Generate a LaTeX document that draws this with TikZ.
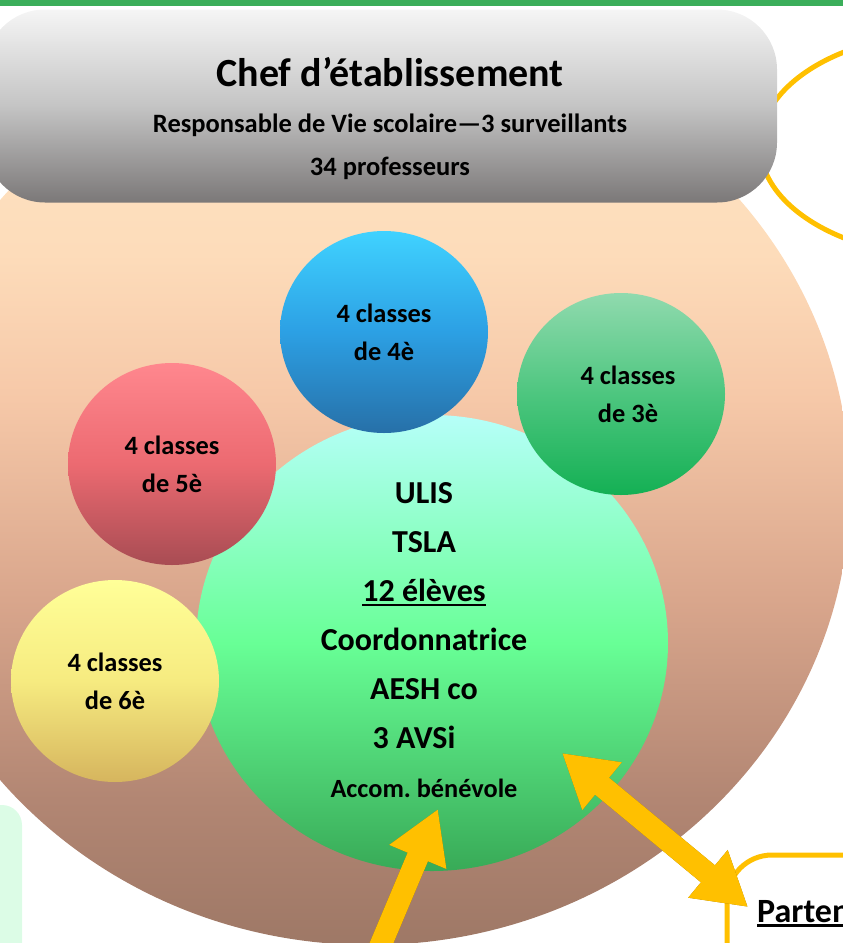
\documentclass[tikz,border=0pt]{standalone}
\usepackage{fontspec}
\setmainfont{Carlito}
\usetikzlibrary{shapes.geometric,arrows.meta}
\definecolor{barvert}{HTML}{3BAE5A}
\definecolor{or}{HTML}{FFC000}
\definecolor{orfonce}{HTML}{9C7400}
\definecolor{menthe}{HTML}{DCFCE6}
\definecolor{peche1}{HTML}{FFE6C6}
\definecolor{peche2}{HTML}{FDDCBA}
\definecolor{peche3}{HTML}{F6C8A8}
\definecolor{peche4}{HTML}{D9A68C}
\definecolor{peche5}{HTML}{B28673}
\definecolor{peche6}{HTML}{9E7866}
\pgfdeclareverticalshading{peche}{100bp}{color(0bp)=(peche6); color(25bp)=(peche6); color(33bp)=(peche5);
  color(44bp)=(peche4); color(55bp)=(peche3); color(63bp)=(peche2); color(75bp)=(peche1); color(100bp)=(peche1)}
\newcommand\souligne[1]{\vtop{\hbox{#1}\kern2pt\hrule height 2.5pt}}
\begin{document}
\begin{tikzpicture}[x=1pt,y=-1pt,
  bulle/.style={ellipse, minimum width=208pt, minimum height=202pt, inner sep=0pt, align=center,
    font=\fontsize{26.4}{38}\selectfont\bfseries},
  texte/.style={align=center, inner sep=0pt, font=\bfseries},
  fleche/.style={or, line width=22pt},
  ombre/.style={orfonce, line width=22pt, shift={(2,3)}},
  pointe/.style={-{Triangle[width=58pt,length=52pt]}}]
\useasboundingbox (0,0) rectangle (843,943);
\clip (0,0) rectangle (843,943);
\fill[barvert] (0,0) rectangle (843,6);
\draw[or, line width=5pt] (950,145) ellipse [x radius=190, y radius=112];
\fill[menthe, rounded corners=20pt] (-30,805) rectangle (22,990);
\draw[or, line width=5pt, rounded corners=45pt] (727,855) rectangle (950,1020);
\node[texte, anchor=base west, font=\fontsize{34}{36}\selectfont\bfseries] (partenaires) at (757,922) {\souligne{Partenaires}};
% grand cercle
\shade[shading=peche] (370,490) ellipse [x radius=480, y radius=455];
% direction
\node[rectangle, rounded corners=60pt, minimum width=792pt, minimum height=193pt,
  top color={rgb,255:red,245;green,245;blue,245}, bottom color={rgb,255:red,123;green,120;blue,120},
  middle color={rgb,255:red,196;green,196;blue,196}] (chef) at (381,106) {};
\node[texte, anchor=base, font=\fontsize{40}{44}\selectfont\bfseries] (chef1) at (390,86) {Chef d’établissement};
\node[texte, anchor=base, font=\fontsize{26.5}{30}\selectfont\bfseries] (chef2) at (390,132) {Responsable de Vie scolaire—3 surveillants};
\node[texte, anchor=base, font=\fontsize{26.5}{30}\selectfont\bfseries] (chef3) at (390,175) {34 professeurs};
% ULIS
\node[ellipse, minimum width=472pt, minimum height=456pt, top color={rgb,255:red,182;green,255;blue,249},
  bottom color={rgb,255:red,56;green,170;blue,87}, middle color={rgb,255:red,104;green,255;blue,150}] (ulis) at (432,643) {};
\node[texte, font=\fontsize{32}{49}\selectfont\bfseries] (ulistxt) at (424,640) {ULIS\\TSLA\\\souligne{12 élèves}\\Coordonnatrice\\AESH co\\3 AVSi\rule{20pt}{0pt}\\
  {\fontsize{26.3}{46}\selectfont Accom.\ bénévole}};
% classes
\node[bulle, top color={rgb,255:red,64;green,210;blue,255}, bottom color={rgb,255:red,39;green,112;blue,168},
  middle color={rgb,255:red,44;green,160;blue,228}] (quatre) at (384,332) {4 classes\\de 4è};
\node[bulle, top color={rgb,255:red,144;green,218;blue,174}, bottom color={rgb,255:red,20;green,176;blue,84},
  middle color={rgb,255:red,77;green,198;blue,127}] (trois) at (621,394) {\hspace{14pt}4 classes\\\hspace{14pt}de 3è};
\node[bulle, top color={rgb,255:red,255;green,135;blue,142}, bottom color={rgb,255:red,168;green,76;blue,83},
  middle color={rgb,255:red,236;green,106;blue,113}] (cinq) at (172,464) {4 classes\\de 5è};
\node[bulle, top color={rgb,255:red,255;green,255;blue,152}, bottom color={rgb,255:red,214;green,181;blue,94},
  middle color={rgb,255:red,246;green,235;blue,128}] (six) at (115,681) {4 classes\\de 6è};
% fleches
\coordinate (ulisbout) at (562,753);
\coordinate (partbout) at (748,907);
\coordinate (ulisbas) at (438,809);
\coordinate (dehors) at (368,975);
\draw[ombre, {Triangle[width=58pt,length=52pt]}-{Triangle[width=58pt,length=52pt]}] (ulisbout) -- (partbout);
\draw[fleche, {Triangle[width=58pt,length=52pt]}-{Triangle[width=58pt,length=52pt]}] (ulisbout) -- (partbout);
\draw[ombre, pointe] (dehors) -- (ulisbas);
\draw[fleche, pointe] (dehors) -- (ulisbas);
\end{tikzpicture}
\end{document}
